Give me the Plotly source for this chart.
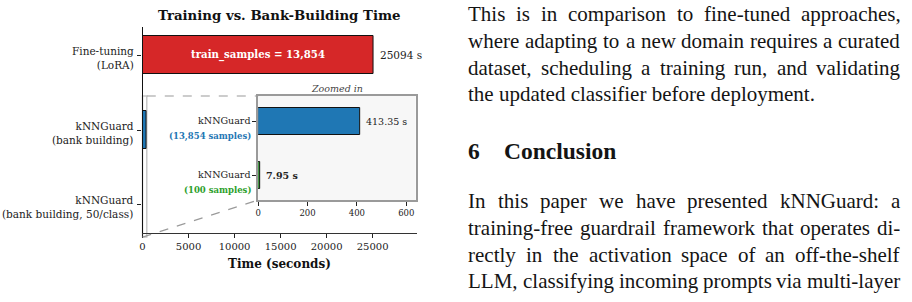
import plotly.graph_objects as go

W, H = 912, 302

# ---------------- data ----------------
main_labels = ["Fine-tuning<br>(LoRA)", "kNNGuard<br>(bank building)", "kNNGuard<br>(bank building, 50/class)"]
main_times = [25094, 413.35, 7.95]
main_colors = ["#d62728", "#1f77b4", "#2ca02c"]
main_value_text = ["25094 s"]
bar_inner_text = "train_samples = 13,854"

inset_labels = ["kNNGuard", "kNNGuard"]
inset_sublabels = ["(13,854 samples)", "(100 samples)"]
inset_sub_colors = ["#1f77b4", "#2ca02c"]
inset_times = [413.35, 7.95]
inset_colors = ["#1f77b4", "#2ca02c"]
inset_value_text = ["413.35 s", "<b>7.95 s</b>"]

x_ticks_main = [0, 5000, 10000, 15000, 20000, 25000]
x_ticks_inset = [0, 200, 400, 600]

title_text = "<b>Training vs. Bank-Building Time</b>"
xlabel_text = "<b>Time (seconds)</b>"
inset_title = "<i>Zoomed in</i>"

para1 = [
    "This is in comparison to fine-tuned approaches,",
    "where adapting to a new domain requires a curated",
    "dataset, scheduling a training run, and validating",
    "the updated classifier before deployment.",
]
heading_num = "6"
heading_text = "Conclusion"
para2 = [
    "In this paper we have presented kNNGuard:  a",
    "training-free guardrail framework that operates di-",
    "rectly in the activation space of an off-the-shelf",
    "LLM, classifying incoming prompts via multi-layer",
]

# ---------------- layout geometry (pixels) ----------------
MAIN = dict(x0=140, x1=415, y0=27, y1=233)
INSET = dict(x0=256, x1=414, y0=96, y1=200)
MAIN_XR = [0, 29783]
MAIN_YR = [2.375, -0.375]
INSET_XR = [0, 638]
INSET_YR = [1.463, -0.463]


def px(x):
    return x / W


def py(y):
    return 1 - y / H


def main_to_paper(xv, yv):
    fx = (xv - MAIN_XR[0]) / (MAIN_XR[1] - MAIN_XR[0])
    fy = (yv - MAIN_YR[1]) / (MAIN_YR[0] - MAIN_YR[1])  # fraction from top
    X = MAIN["x0"] + fx * (MAIN["x1"] - MAIN["x0"])
    Y = MAIN["y0"] + fy * (MAIN["y1"] - MAIN["y0"])
    return px(X), py(Y)


SERIF = "DejaVu Serif"
TXT = "#222222"

fig = go.Figure()

# main bars
fig.add_trace(go.Bar(
    x=main_times, y=list(range(len(main_times))), orientation="h",
    width=0.5, marker=dict(color=main_colors, line=dict(color="#111111", width=1)),
    xaxis="x", yaxis="y", showlegend=False, hoverinfo="skip"))

# inset bars
fig.add_trace(go.Bar(
    x=inset_times, y=list(range(len(inset_times))), orientation="h",
    width=0.5, marker=dict(color=inset_colors, line=dict(color="#111111", width=1)),
    xaxis="x2", yaxis="y2", showlegend=False, hoverinfo="skip"))

annotations = []
shapes = []

# main y labels (two lines, right aligned)
for i, lab in enumerate(main_labels):
    annotations.append(dict(x=0, y=i, xref="x domain", yref="y", text=lab, xanchor="right", yanchor="middle",
                            align="right", xshift=-9, yshift=-2.5, showarrow=False, borderpad=0, borderwidth=0,
                            font=dict(family=SERIF, size=10.5, color=TXT)))

# bar inner text & value labels (main)
annotations.append(dict(x=main_times[0] / 2, y=0, xref="x", yref="y", text="<b>" + bar_inner_text + "</b>",
                        xanchor="center", yanchor="middle",
                        showarrow=False, font=dict(family=SERIF, size=10.2, color="white")))
annotations.append(dict(x=main_times[0], y=0, xref="x", yref="y", text=main_value_text[0], xanchor="left",
                        yanchor="middle", xshift=5, showarrow=False, font=dict(family=SERIF, size=10.5, color=TXT)))

# inset value labels and sublabels
for i, (t, lab) in enumerate(zip(inset_times, inset_value_text)):
    annotations.append(dict(x=t, y=i, xref="x2", yref="y2", text=lab, xanchor="left", yanchor="middle", xshift=4,
                            showarrow=False, font=dict(family=SERIF, size=9.5, color=TXT)))
for i, (lab, c) in enumerate(zip(inset_sublabels, inset_sub_colors)):
    annotations.append(dict(x=0, y=i + 0.28, xref="x2 domain", yref="y2", text="<b>" + lab + "</b>",
                            xanchor="right", yanchor="middle", xshift=-5, showarrow=False,
                            font=dict(family=SERIF, size=8.5, color=c)))

annotations.append(dict(x=0.5, y=1, xref="x2 domain", yref="y2 domain", text=inset_title, xanchor="center",
                        yanchor="bottom", showarrow=False, font=dict(family=SERIF, size=9.5, color="#444444")))

# title and x label
annotations.append(dict(x=px(277), y=py(15), xref="paper", yref="paper",
                        xanchor="center", yanchor="middle",
                        text=title_text, showarrow=False, font=dict(family=SERIF, size=13.3, color="#111111")))
annotations.append(dict(x=px(277.5), y=py(264), xref="paper", yref="paper",
                        xanchor="center", yanchor="middle",
                        text=xlabel_text, showarrow=False, font=dict(family=SERIF, size=12, color="#111111")))

# inset background
shapes.append(dict(type="rect", xref="paper", yref="paper", x0=px(INSET["x0"]), x1=px(INSET["x1"]),
                   y0=py(INSET["y1"]), y1=py(INSET["y0"]), fillcolor="#f7f7f7", line=dict(width=0),
                   layer="below"))

# zoom indicator rectangle in main axes
rx0, ry0 = main_to_paper(0, 0.547)
rx1, ry1 = main_to_paper(460, 2.43)
shapes.append(dict(type="rect", xref="paper", yref="paper", x0=rx0, x1=rx1, y0=ry1, y1=ry0,
                   line=dict(color="#c8c8c8", width=1.5), layer="below"))
# connectors
shapes.append(dict(type="line", xref="paper", yref="paper", x0=rx1, y0=ry0, x1=px(INSET["x0"]), y1=py(INSET["y0"]),
                   line=dict(color="#9a9a9a", width=1.1, dash="dash")))
shapes.append(dict(type="line", xref="paper", yref="paper", x0=rx0, y0=ry1, x1=px(INSET["x0"]), y1=py(INSET["y1"]),
                   line=dict(color="#9a9a9a", width=1.1, dash="dash")))

# ---------------- paper text on the right ----------------
TIMES = {
    ' ': 250, '!': 333, ',': 250, '-': 333, '.': 250, ':': 278, ';': 278, '(': 333, ')': 333,
    'A': 722, 'B': 667, 'C': 667, 'D': 722, 'E': 611, 'F': 556, 'G': 722, 'H': 722, 'I': 333, 'J': 389,
    'K': 722, 'L': 611, 'M': 889, 'N': 722, 'O': 722, 'P': 556, 'Q': 722, 'R': 667, 'S': 556, 'T': 611,
    'U': 722, 'V': 722, 'W': 944, 'X': 722, 'Y': 722, 'Z': 611,
    'a': 444, 'b': 500, 'c': 444, 'd': 500, 'e': 444, 'f': 333, 'g': 500, 'h': 500, 'i': 278, 'j': 278,
    'k': 500, 'l': 278, 'm': 778, 'n': 500, 'o': 500, 'p': 500, 'q': 500, 'r': 333, 's': 389, 't': 278,
    'u': 500, 'v': 500, 'w': 722, 'x': 500, 'y': 500, 'z': 444,
}


def wwidth(word, size):
    return sum(TIMES.get(c, 500) for c in word) * size / 1000.0


BODY_FONT = dict(family="Liberation Serif", size=21, color="#141414")
TX0, TX1 = 467, 900


def add_line(text, baseline, justify):
    cy = baseline - 0.3375 * BODY_FONT["size"]
    if not justify:
        annotations.append(dict(x=px(TX0), y=py(cy), xref="paper", yref="paper", text=text, xanchor="left",
                                yanchor="middle", showarrow=False, borderpad=0, borderwidth=0, font=BODY_FONT))
        return
    words = text.split()
    widths = [wwidth(w, BODY_FONT["size"]) for w in words]
    gap = (TX1 - TX0 - sum(widths)) / (len(words) - 1)
    x = TX0
    for w, wd in zip(words, widths):
        annotations.append(dict(x=px(x), y=py(cy), xref="paper", yref="paper", text=w, xanchor="left",
                                yanchor="middle", showarrow=False, borderpad=0, borderwidth=0, font=BODY_FONT))
        x += wd + gap


pitch = 26.8
for i, line in enumerate(para1):
    add_line(line, 21 + i * pitch, justify=(i < len(para1) - 1))
for i, line in enumerate(para2):
    add_line(line, 208 + i * pitch, justify=True)

HEAD_FONT = dict(family="Liberation Serif", size=23.5, color="#141414")
hcy = 159 - 0.3375 * 23.5
annotations.append(dict(x=px(467), y=py(hcy), xref="paper", yref="paper", text="<b>" + heading_num + "</b>",
                        xanchor="left", yanchor="middle", showarrow=False, borderpad=0, borderwidth=0,
                        font=HEAD_FONT))
annotations.append(dict(x=px(503), y=py(hcy), xref="paper", yref="paper", text="<b>" + heading_text + "</b>",
                        xanchor="left", yanchor="middle", showarrow=False, borderpad=0, borderwidth=0,
                        font=HEAD_FONT))

fig.update_layout(
    width=W, height=H, margin=dict(l=0, r=0, t=0, b=0),
    paper_bgcolor="white", plot_bgcolor="rgba(0,0,0,0)",
    font=dict(family=SERIF, color=TXT),
    bargap=0,
    xaxis=dict(domain=[px(MAIN["x0"]), px(MAIN["x1"])], range=MAIN_XR, anchor="y",
               tickvals=x_ticks_main, ticktext=[str(v) for v in x_ticks_main],
               ticks="outside", ticklen=4, tickcolor="#222", showline=True, linecolor="#333333", linewidth=1.2,
               showgrid=False, zeroline=False, tickfont=dict(family=SERIF, size=10, color=TXT)),
    yaxis=dict(domain=[py(MAIN["y1"]), py(MAIN["y0"])], range=MAIN_YR, anchor="x",
               tickvals=list(range(len(main_labels))), showticklabels=False,
               ticks="outside", ticklen=4, tickcolor="#222", showline=True, linecolor="#111111", linewidth=1.2,
               showgrid=False, zeroline=False),
    xaxis2=dict(domain=[px(INSET["x0"]), px(INSET["x1"])], range=INSET_XR, anchor="y2",
                tickvals=x_ticks_inset, ticktext=[str(v) for v in x_ticks_inset],
                ticks="outside", ticklen=4, tickcolor="#222", showline=True, mirror=True,
                linecolor="#9a9a9a", linewidth=1.5, showgrid=False, zeroline=False,
                tickfont=dict(family=SERIF, size=8.5, color=TXT)),
    yaxis2=dict(domain=[py(INSET["y1"]), py(INSET["y0"])], range=INSET_YR, anchor="x2",
                tickvals=list(range(len(inset_labels))), ticktext=inset_labels,
                ticks="outside", ticklen=4, tickcolor="#222", showline=True, mirror=True,
                linecolor="#9a9a9a", linewidth=1.5, showgrid=False, zeroline=False,
                tickfont=dict(family=SERIF, size=9.5, color=TXT)),
    annotations=annotations,
    shapes=shapes,
)

fig.write_html("out.html", config={"displayModeBar": False})
